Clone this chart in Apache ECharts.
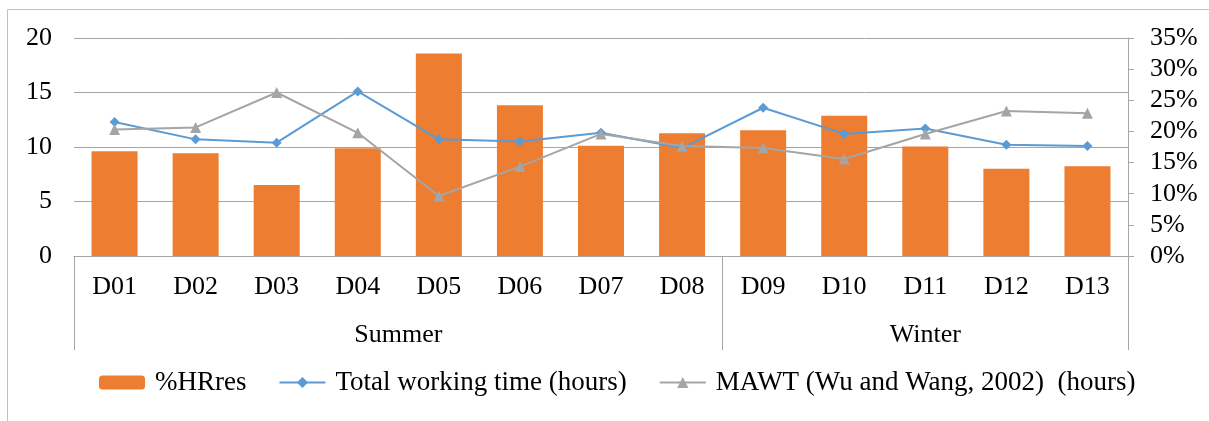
<!DOCTYPE html>
<html>
<head>
<meta charset="utf-8">
<script src="https://cdn.jsdelivr.net/npm/echarts@6/dist/echarts.min.js"></script>
<style>
  html, body { margin: 0; padding: 0; background: #fff; }
  #chart { width: 1209px; height: 421px; }
</style>
</head>
<body>
<div id="chart"></div>
<script>
// categories
const days = ['D01', 'D02', 'D03', 'D04', 'D05', 'D06', 'D07', 'D08', 'D09', 'D10', 'D11', 'D12', 'D13'];
const seasons = ['Summer', 'Winter'];
const seasonSizes = [8, 5];

// series values
const hrRes = [0.168, 0.165, 0.114, 0.173, 0.325, 0.242, 0.177, 0.197, 0.202, 0.225, 0.176, 0.140, 0.144];
const workingTime = [12.3, 10.7, 10.4, 15.1, 10.7, 10.5, 11.3, 9.9, 13.6, 11.2, 11.7, 10.2, 10.1];
const mawt = [11.6, 11.8, 15.0, 11.3, 5.5, 8.2, 11.2, 10.1, 9.9, 8.9, 11.2, 13.3, 13.1];

const font = 'Liberation Serif';
const gray = '#a6a6a6';

// half-step slots for the season axis: labels sit in the middle of each group,
// ticks mark the group borders
const slots = [];
const borders = [0];
let pos = 0;
seasonSizes.forEach((n) => {
  pos += n;
  borders.push(pos * 2);
});
for (let i = 0; i <= days.length * 2; i++) slots.push('');
let start = 0;
seasons.forEach((s, k) => {
  slots[start + seasonSizes[k]] = s;
  start += seasonSizes[k] * 2;
});

const chart = echarts.init(document.getElementById('chart'));

const option = {
  animation: false,
  textStyle: { fontFamily: font },
  graphic: [{
    type: 'rect',
    shape: { x: 7.5, y: 9.5, width: 1400, height: 600 },
    style: { fill: 'none', stroke: '#bfbfbf', lineWidth: 1 },
    silent: true
  }],
  legend: {
    bottom: 20,
    left: 94,
    itemWidth: 46,
    itemHeight: 14,
    itemGap: 32,
    textStyle: { fontFamily: font, fontSize: 27, color: '#000', padding: [0, 0, 0, 5] },
    data: ['%HRres', 'Total working time (hours)', 'MAWT (Wu and Wang, 2002)  (hours)']
  },
  grid: { left: 74, right: 81, top: 38, bottom: 165 },
  xAxis: [{
    type: 'category',
    data: days,
    axisLine: { lineStyle: { color: gray } },
    axisTick: { show: false },
    axisLabel: { fontFamily: font, fontSize: 26, color: '#000', margin: 18, interval: 0 }
  }, {
    type: 'category',
    data: slots,
    boundaryGap: false,
    position: 'bottom',
    axisLine: { show: false },
    axisTick: {
      show: true,
      length: 94,
      interval: (i) => borders.includes(i),
      lineStyle: { color: gray }
    },
    axisLabel: { fontFamily: font, fontSize: 26, color: '#000', margin: 66, interval: 0 }
  }],
  yAxis: [{
    type: 'value',
    min: 0,
    max: 20,
    interval: 5,
    axisLine: { show: false },
    axisTick: { show: false },
    splitLine: { lineStyle: { color: gray } },
    axisLabel: { fontFamily: font, fontSize: 26, color: '#000', margin: 22 }
  }, {
    type: 'value',
    min: 0,
    max: 0.35,
    interval: 0.05,
    axisLine: { show: true, lineStyle: { color: gray } },
    axisTick: { show: true, length: 6, lineStyle: { color: gray } },
    splitLine: { show: false },
    axisLabel: {
      fontFamily: font, fontSize: 26, color: '#000', margin: 22,
      formatter: (v) => Math.round(v * 100) + '%'
    }
  }],
  series: [{
    name: '%HRres',
    type: 'bar',
    yAxisIndex: 1,
    data: hrRes,
    barWidth: 46,
    itemStyle: { color: '#ed7d31' }
  }, {
    name: 'Total working time (hours)',
    type: 'line',
    data: workingTime,
    symbol: 'diamond',
    symbolSize: 10,
    lineStyle: { color: '#5b9bd5', width: 2 },
    itemStyle: { color: '#5b9bd5' }
  }, {
    name: 'MAWT (Wu and Wang, 2002)  (hours)',
    type: 'line',
    data: mawt,
    symbol: 'triangle',
    symbolSize: 11,
    lineStyle: { color: '#a5a5a5', width: 2 },
    itemStyle: { color: '#a5a5a5' }
  }]
};

chart.setOption(option);
</script>
</body>
</html>
